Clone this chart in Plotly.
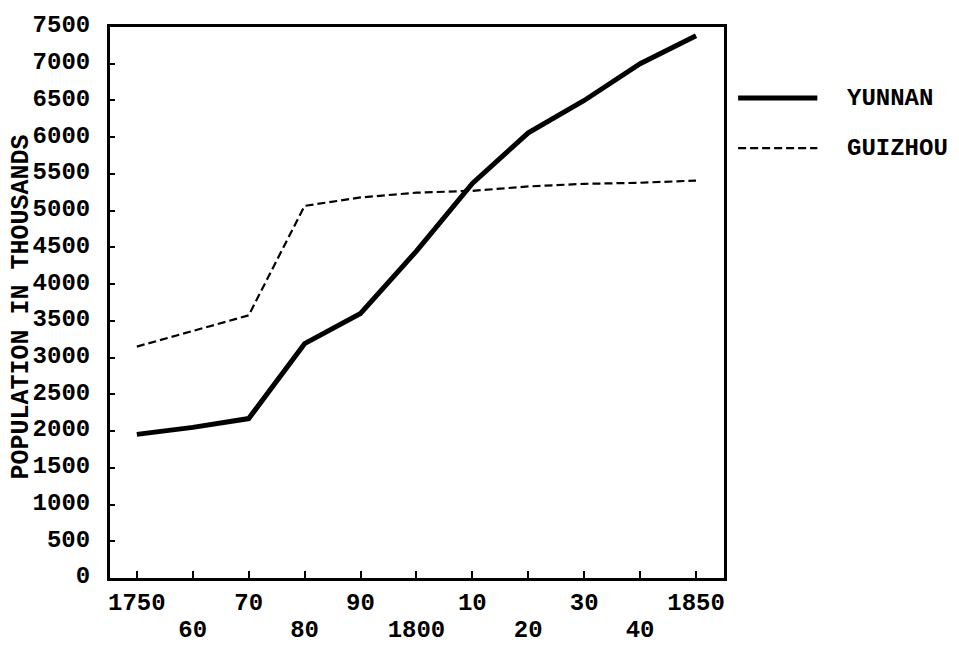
import plotly.graph_objects as go

# values (population in thousands)
years_yunnan = [1750, 1760, 1770, 1780, 1790, 1800, 1810, 1820, 1830, 1840, 1850]
yunnan = [1955, 2050, 2170, 3190, 3600, 4450, 5370, 6060, 6500, 7000, 7380]

years_guizhou = [1750, 1770, 1780, 1790, 1800, 1810, 1820, 1830, 1840, 1850]
guizhou = [3150, 3575, 5065, 5180, 5245, 5270, 5330, 5365, 5380, 5410]

# x labels are staggered on two rows
row1_ticks = [1750, 1770, 1790, 1810, 1830, 1850]
row1_text = ['1750', '70', '90', '10', '30', '1850']
row2_ticks = [1760, 1780, 1800, 1820, 1840]
row2_text = ['60', '80', '1800', '20', '40']
y_ticks = list(range(0, 7501, 500))

FONT = 'Liberation Mono'
X_RANGE = [1745.2, 1855]
TICKS = dict(ticks='inside', ticklen=7, tickwidth=2, tickcolor='black')

fig = go.Figure()
fig.add_trace(go.Scatter(x=years_yunnan, y=yunnan, mode='lines', name='YUNNAN',
                         line=dict(color='black', width=5), showlegend=False))
fig.add_trace(go.Scatter(x=years_guizhou, y=guizhou, mode='lines', name='GUIZHOU',
                         line=dict(color='black', width=2.2, dash='8px,4px'), showlegend=False))
# invisible trace so the axis of the second label row gets drawn
fig.add_trace(go.Scatter(x=row2_ticks, y=[0] * len(row2_ticks), xaxis='x2', mode='lines',
                         line=dict(width=0), hoverinfo='skip', showlegend=False))

# page body has an 8px margin, so the figure is drawn 8px smaller
fig.update_layout(
    width=951, height=639,
    margin=dict(l=102, r=235, t=19, b=69),
    paper_bgcolor='white', plot_bgcolor='white',
    font=dict(family=FONT, size=24, color='black', weight='bold'),
    xaxis=dict(range=X_RANGE, tickvals=row1_ticks, ticktext=row1_text, **TICKS,
               showline=True, linecolor='black', linewidth=3, mirror=True,
               showgrid=False, zeroline=False, ticklabelstandoff=0, automargin=False),
    xaxis2=dict(overlaying='x', side='bottom', range=X_RANGE, tickvals=row2_ticks,
                ticktext=row2_text, **TICKS, showline=False, showgrid=False,
                zeroline=False, ticklabelstandoff=34, automargin=False),
    yaxis=dict(range=[0, 7500], tickvals=y_ticks, ticks='inside', ticklen=5, tickwidth=2,
               tickcolor='black', showline=True, linecolor='black', linewidth=3, mirror=True,
               showgrid=False, zeroline=False, ticklabelstandoff=12, ticklabelshift=-3,
               automargin=False),
)

# axis title
fig.add_annotation(text='POPULATION IN THOUSANDS', xref='paper', yref='paper',
                   x=-0.144, y=0.492, xanchor='center', yanchor='middle',
                   textangle=-90, showarrow=False, borderpad=0,
                   font=dict(family=FONT, size=25, weight='bold'))

# hand-drawn legend at the right of the frame
for yy, w, dash, label in [(0.871, 5, 'solid', 'YUNNAN'), (0.780, 2.2, '8px,4px', 'GUIZHOU')]:
    fig.add_shape(type='line', xref='paper', yref='paper', x0=1.023, x1=1.152, y0=yy, y1=yy,
                  line=dict(color='black', width=w, dash=dash))
    fig.add_annotation(text=label, xref='paper', yref='paper', x=1.197, y=yy,
                       xanchor='left', yanchor='middle', showarrow=False,
                       font=dict(family=FONT, size=24, weight='bold'))

fig.write_html('out.html')
